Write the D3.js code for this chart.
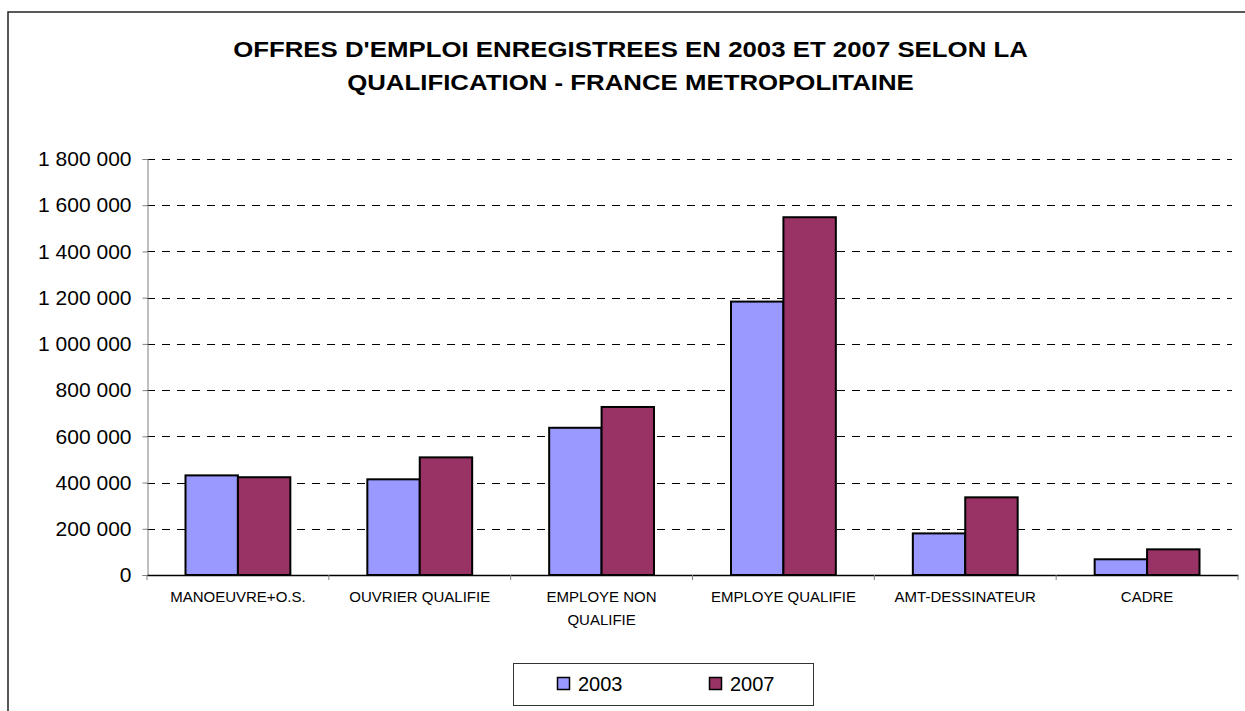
<!DOCTYPE html>
<html><head><meta charset="utf-8">
<script src="https://cdn.jsdelivr.net/npm/d3@7"></script>
<style>
html,body{margin:0;padding:0;background:#fff;}
svg{display:block;font-family:Arial,"Liberation Sans",sans-serif;}
</style></head>
<body>
<svg id="chart" width="1245" height="711"></svg>
<script>
const titleLines = ["OFFRES D'EMPLOI ENREGISTREES EN 2003 ET 2007 SELON LA", "QUALIFICATION - FRANCE METROPOLITAINE"];
const categories = ["MANOEUVRE+O.S.", "OUVRIER QUALIFIE", "EMPLOYE NON QUALIFIE", "EMPLOYE QUALIFIE", "AMT-DESSINATEUR", "CADRE"];
const categoryLines = [["MANOEUVRE+O.S."], ["OUVRIER QUALIFIE"], ["EMPLOYE NON", "QUALIFIE"], ["EMPLOYE QUALIFIE"], ["AMT-DESSINATEUR"], ["CADRE"]];
const seriesNames = ["2003", "2007"];
const values2003 = [431000, 414000, 637000, 1183000, 180000, 68000];
const values2007 = [423000, 509000, 727000, 1548000, 336000, 111000];
const yTicks = [0, 200000, 400000, 600000, 800000, 1000000, 1200000, 1400000, 1600000, 1800000];
const colors = ["#9999FF", "#993366"];

const svg = d3.select("#chart");
const pLeft = 147, pRight = 1238, pTop = 159, pBottom = 575;

// outer frame
svg.append("rect").attr("x", 8).attr("y", 12).attr("width", 1260).attr("height", 720)
  .attr("fill", "none").attr("stroke", "#222").attr("stroke-width", 1.5);

// title
const title = svg.append("g");
titleLines.forEach((t, i) => {
  const tx = title.append("text").attr("x", 630.5).attr("y", 57 + i * 33)
    .attr("text-anchor", "middle").attr("font-weight", "bold").attr("font-size", 23)
    .attr("fill", "#000").text(t);
});
// fit first line to reference width (~795px)
const w0 = title.select("text").node().getComputedTextLength();
const sx = 795 / w0;
title.selectAll("text").attr("font-size", 23).attr("transform", `translate(630.5,0) scale(${sx},1) translate(-630.5,0)`);

const y = d3.scaleLinear().domain([0, 1800000]).range([pBottom, pTop]);
const x0 = d3.scaleBand().domain(categories).range([pLeft, pRight]).paddingInner(0).paddingOuter(0);
const x1 = d3.scaleBand().domain(seriesNames).range([38.5, x0.bandwidth() - 38.5]).padding(0);

const loc = d3.formatLocale({decimal: ",", thousands: " ", grouping: [3], currency: ["", " €"]});
const fmt = loc.format(",d");

// gridlines
svg.append("g").selectAll("line").data(yTicks.filter(d => d > 0)).join("line")
  .attr("x1", pLeft).attr("x2", pRight - 6).attr("y1", d => Math.round(y(d)) + 0.5).attr("y2", d => Math.round(y(d)) + 0.5)
  .attr("stroke", "#000").attr("stroke-width", 1).attr("stroke-dasharray", "8,7");

// y axis
const yAxis = d3.axisLeft(y).tickValues(yTicks).tickFormat(fmt).tickSize(5).tickPadding(11);
const gy = svg.append("g").attr("transform", `translate(${pLeft + 0.5},0)`).call(yAxis);
gy.select(".domain").attr("stroke", "#808080");
gy.selectAll(".tick line").attr("stroke", "#808080");
gy.selectAll(".tick text").attr("font-size", 21).attr("fill", "#000").attr("font-family", "Arial, 'Liberation Sans', sans-serif");

// bars
const series = [values2003, values2007];
const groups = svg.append("g").selectAll("g").data(categories).join("g")
  .attr("transform", d => `translate(${x0(d)},0)`);
groups.selectAll("rect").data((d, i) => seriesNames.map((s, j) => ({s, v: series[j][i], j}))).join("rect")
  .attr("x", d => x1(d.s)).attr("width", x1.bandwidth())
  .attr("y", d => y(d.v)).attr("height", d => y(0) - y(d.v))
  .attr("fill", d => colors[d.j]).attr("stroke", "#000").attr("stroke-width", 2);

// x axis
const xAxis = d3.axisBottom(x0).tickSize(0).tickFormat("");
const gx = svg.append("g").attr("transform", `translate(0,${pBottom})`).call(xAxis);
gx.select(".domain").attr("stroke", "#000").attr("stroke-width", 1.5);
// boundary ticks
const bounds = categories.map(c => x0(c)).concat([pRight]);
svg.append("g").selectAll("line").data(bounds).join("line")
  .attr("x1", d => d).attr("x2", d => d).attr("y1", pBottom).attr("y2", pBottom + 5)
  .attr("stroke", "#808080").attr("stroke-width", 1);

// category labels
categories.forEach((c, i) => {
  const cx = x0(c) + x0.bandwidth() / 2;
  categoryLines[i].forEach((ln, k) => {
    svg.append("text").attr("x", cx).attr("y", 602 + k * 22.5)
      .attr("text-anchor", "middle").attr("font-size", 15).attr("fill", "#000").text(ln);
  });
});

// legend
const lg = svg.append("g");
lg.append("rect").attr("x", 513.5).attr("y", 663.5).attr("width", 300).attr("height", 42)
  .attr("fill", "#fff").attr("stroke", "#333").attr("stroke-width", 1);
const legendX = [557, 709];
seriesNames.forEach((s, i) => {
  lg.append("rect").attr("x", legendX[i] + 0.5).attr("y", 677.5).attr("width", 12).attr("height", 12)
    .attr("fill", colors[i]).attr("stroke", "#000").attr("stroke-width", 1.5);
  lg.append("text").attr("x", legendX[i] + 21).attr("y", 691).attr("font-size", 20).attr("fill", "#000").text(s);
});
</script>
</body></html>
